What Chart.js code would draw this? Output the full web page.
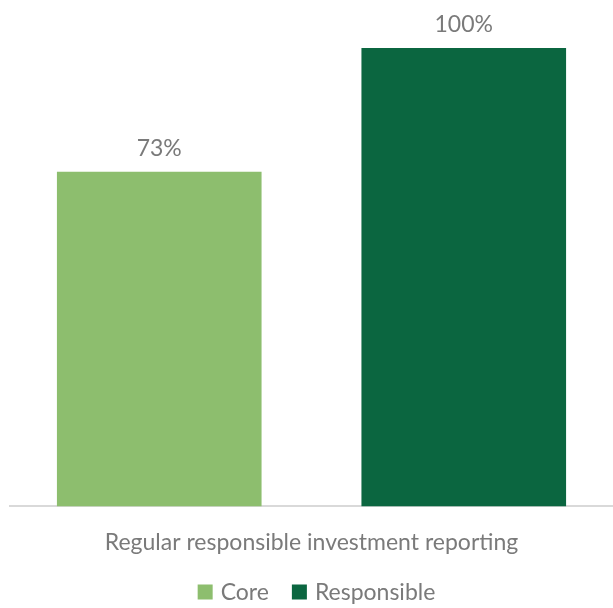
<!DOCTYPE html>
<html>
<head>
<meta charset="utf-8">
<script src="https://cdn.jsdelivr.net/npm/chart.js@4"></script>
<style>
  html, body { margin: 0; padding: 0; background: #fff; }
  #wrap { width: 613px; height: 608px; }
</style>
</head>
<body>
<div id="wrap"><canvas id="chart"></canvas></div>
<script>
const categories = ['Regular responsible investment reporting'];
const seriesNames = ['Core', 'Responsible'];
const coreValues = [73];
const responsibleValues = [100];
const seriesColors = ['#8dbe6e', '#0b6640'];

const textGrey = '#7a7a7a';
const fontFamily = 'Lato, "Open Sans", sans-serif';
const textFont = '400 23px ' + fontFamily;

// draws the "73%" style labels above each bar
const valueLabels = {
    id: 'valueLabels',
    afterDatasetsDraw(chart) {
        const ctx = chart.ctx;
        ctx.save();
        ctx.font = textFont;
        ctx.fillStyle = textGrey;
        ctx.textAlign = 'center';
        ctx.textBaseline = 'bottom';
        chart.data.datasets.forEach(function (ds, i) {
            chart.getDatasetMeta(i).data.forEach(function (bar, j) {
                ctx.fillText(ds.data[j] + '%', bar.x, bar.y - 12);
            });
        });
        ctx.restore();
    }
};

// simple bottom legend, the built in one spaces items too tightly
const bottomLegend = {
    id: 'bottomLegend',
    afterDraw(chart) {
        const ctx = chart.ctx;
        const box = 15, textGap = 8, itemGap = 23;
        const y = 592;
        ctx.save();
        ctx.font = textFont;
        ctx.textBaseline = 'middle';
        ctx.textAlign = 'left';
        const items = chart.data.datasets.map(function (ds) {
            return { text: ds.label, color: ds.backgroundColor, w: ctx.measureText(ds.label).width };
        });
        let total = 0;
        items.forEach(function (it, i) {
            total += box + textGap + it.w + (i > 0 ? itemGap : 0);
        });
        let x = (chart.chartArea.left + chart.chartArea.right) / 2 + 5 - total / 2;
        items.forEach(function (it) {
            ctx.fillStyle = it.color;
            ctx.fillRect(x, y - box / 2, box, box);
            ctx.fillStyle = textGrey;
            ctx.fillText(it.text, x + box + textGap, y + 1);
            x += box + textGap + it.w + itemGap;
        });
        ctx.restore();
    }
};

const ctx = document.getElementById('chart').getContext('2d');
new Chart(ctx, {
    type: 'bar',
    data: {
        labels: categories,
        datasets: [
            { label: seriesNames[0], data: coreValues, backgroundColor: seriesColors[0] },
            { label: seriesNames[1], data: responsibleValues, backgroundColor: seriesColors[1] }
        ]
    },
    options: {
        responsive: true,
        maintainAspectRatio: false,
        animation: false,
        layout: { padding: { top: 48, left: 10, right: 0, bottom: 38 } },
        datasets: {
            bar: { categoryPercentage: 1.01, barPercentage: 0.672 }
        },
        scales: {
            x: {
                grid: { display: false },
                border: { display: true, color: '#d9d9d9', width: 2 },
                ticks: {
                    color: textGrey,
                    font: { family: fontFamily, size: 23, weight: 400 },
                    padding: 14
                }
            },
            y: {
                display: false,
                min: 0,
                max: 100
            }
        },
        plugins: {
            legend: { display: false },
            tooltip: { enabled: false }
        }
    },
    plugins: [valueLabels, bottomLegend]
});
</script>
</body>
</html>
